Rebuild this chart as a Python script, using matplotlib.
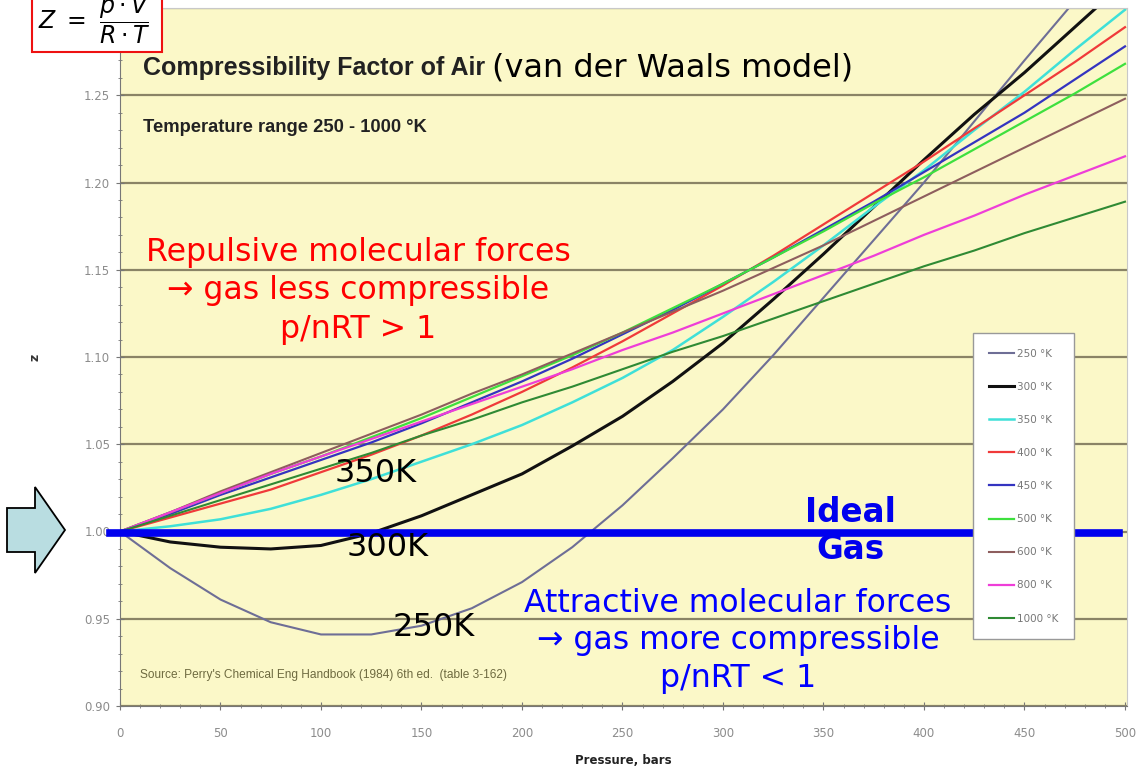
import matplotlib.pyplot as plt
from matplotlib.patches import Polygon, Rectangle
from matplotlib.ticker import MultipleLocator

# values (pressure in bars, Z)
pressure = [0, 25, 50, 75, 100, 125, 150, 175, 200, 225, 250,
            275, 300, 325, 350, 375, 400, 425, 450, 475, 500]
z_250 = [1.000, 0.979, 0.961, 0.948, 0.941, 0.941, 0.946, 0.956, 0.971, 0.991, 1.015,
         1.042, 1.070, 1.101, 1.134, 1.167, 1.200, 1.235, 1.270, 1.304, 1.340]
z_300 = [1.000, 0.994, 0.991, 0.990, 0.992, 0.999, 1.009, 1.021, 1.033, 1.049, 1.066,
         1.086, 1.108, 1.133, 1.159, 1.186, 1.213, 1.239, 1.263, 1.289, 1.315]
z_350 = [1.000, 1.003, 1.007, 1.013, 1.021, 1.030, 1.040, 1.050, 1.061, 1.074, 1.088,
         1.104, 1.123, 1.143, 1.164, 1.186, 1.207, 1.230, 1.252, 1.276, 1.299]
z_400 = [1.000, 1.008, 1.016, 1.024, 1.034, 1.044, 1.055, 1.067, 1.080, 1.094, 1.109,
         1.125, 1.141, 1.158, 1.176, 1.194, 1.212, 1.231, 1.250, 1.269, 1.289]
z_450 = [1.000, 1.010, 1.021, 1.031, 1.041, 1.051, 1.062, 1.074, 1.086, 1.099, 1.113,
         1.127, 1.142, 1.157, 1.173, 1.189, 1.206, 1.223, 1.240, 1.259, 1.278]
z_500 = [1.000, 1.011, 1.022, 1.033, 1.043, 1.054, 1.065, 1.077, 1.089, 1.101, 1.114,
         1.128, 1.142, 1.157, 1.172, 1.188, 1.203, 1.219, 1.235, 1.251, 1.268]
z_600 = [1.000, 1.011, 1.023, 1.034, 1.045, 1.056, 1.067, 1.079, 1.090, 1.102, 1.114,
         1.126, 1.138, 1.151, 1.164, 1.178, 1.192, 1.206, 1.220, 1.234, 1.248]
z_800 = [1.000, 1.011, 1.022, 1.033, 1.043, 1.053, 1.063, 1.073, 1.083, 1.093, 1.104,
         1.114, 1.125, 1.136, 1.147, 1.158, 1.170, 1.181, 1.193, 1.204, 1.215]
z_1000 = [1.000, 1.009, 1.018, 1.027, 1.036, 1.045, 1.055, 1.064, 1.074, 1.083, 1.093,
          1.103, 1.112, 1.122, 1.132, 1.142, 1.152, 1.161, 1.171, 1.180, 1.189]

series = [z_250, z_300, z_350, z_400, z_450, z_500, z_600, z_800, z_1000]
labels = ['250 °K', '300 °K', '350 °K', '400 °K', '450 °K', '500 °K', '600 °K', '800 °K', '1000 °K']
colors = ['#6e6e96', '#111111', '#3fe0d8', '#f03a3a', '#3434c0', '#3ee03e', '#8e5e5e', '#ee3ed8', '#2f8a34']
widths = [1.5, 2.2, 1.8, 1.6, 1.6, 1.6, 1.5, 1.6, 1.5]

W, H = 1140, 774
def fx(px):
    return px / W
def fy(py):
    return 1 - py / H

fig = plt.figure(figsize=(W / 100, H / 100), dpi=100)
ax = fig.add_axes([fx(120), fy(706), fx(1127) - fx(120), fy(8) - fy(706)])
ax.set_facecolor('#fbf8c8')
ax.set_xlim(0, 501)
ax.set_ylim(0.90, 1.30)
ax.xaxis.set_major_locator(MultipleLocator(50))
ax.xaxis.set_minor_locator(MultipleLocator(10))
ax.yaxis.set_major_locator(MultipleLocator(0.05))
ax.yaxis.set_minor_locator(MultipleLocator(0.01))
# top label sits under the formula box in the original
ax.yaxis.set_major_formatter(lambda v, pos: '' if v > 1.27 else f'{v:.2f}')
ax.grid(axis='y', which='major', color='#8a8466', lw=1.6)
ax.set_axisbelow(True)
ax.tick_params(which='both', direction='inout', color='#777777', labelcolor='#8c8c8c', labelsize=8.5)
ax.tick_params(which='major', length=6)
ax.tick_params(which='minor', length=3)
ax.tick_params(axis='x', pad=12)
ax.tick_params(axis='y', pad=4)
for s in ['left', 'bottom']:
    ax.spines[s].set_color('#777777')
for s in ['top', 'right']:
    ax.spines[s].set_color('#c8c8c8')

for z, lab, c, w in zip(series, labels, colors, widths):
    ax.plot(pressure, z, color=c, lw=w, label=lab)

# ideal gas line
ax.plot([-5, 497], [0.9993, 0.9993], color='#0000ee', lw=5.5, clip_on=False, zorder=5)

leg = ax.legend(loc='upper left', bbox_to_anchor=(fx(973), fy(333)), bbox_transform=fig.transFigure,
                fontsize=7.5, labelspacing=2.22, handlelength=2.4, handletextpad=0.3,
                borderpad=1.5, fancybox=False, framealpha=1, edgecolor='#999999',
                borderaxespad=0)
for t in leg.get_texts():
    t.set_color('#777777')
leg.set_zorder(10)

ax.set_ylabel('z', fontsize=9, fontweight='bold', color='#333333', labelpad=31)
ax.set_xlabel('Pressure, bars', fontsize=8.5, fontweight='bold', color='#222222', labelpad=10)

fig.text(fx(143), fy(68), 'Compressibility Factor of Air', fontsize=18, fontweight='bold',
         family='Liberation Sans', color='#222222', va='center')
fig.text(fx(492), fy(68), '(van der Waals model)', fontsize=23, color='black', va='center')
fig.text(fx(143), fy(128), 'Temperature range 250 - 1000 °K', fontsize=13.2, fontweight='bold',
         family='Liberation Sans', color='#222222', va='center')
fig.text(fx(140), fy(675), "Source: Perry's Chemical Eng Handbook (1984) 6th ed.  (table 3-162)",
         fontsize=8.6, family='Liberation Sans', color='#6e6a40', va='center')

fig.text(fx(358), fy(291), 'Repulsive molecular forces\n\u2192 gas less compressible\np/nRT > 1',
         fontsize=22.7, color='#ff0000', ha='center', va='center', linespacing=1.33)
fig.text(fx(738), fy(641), 'Attractive molecular forces\n\u2192 gas more compressible\np/nRT < 1',
         fontsize=22.7, color='#0000ff', ha='center', va='center', linespacing=1.28)
fig.text(fx(850), fy(531), 'Ideal\nGas', fontsize=23.5, fontweight='bold', color='#0000ee',
         ha='center', va='center', linespacing=1.12)
fig.text(fx(376), fy(474), '350K', fontsize=23, color='black', ha='center', va='center')
fig.text(fx(388), fy(547), '300K', fontsize=23, color='black', ha='center', va='center')
fig.text(fx(434), fy(628), '250K', fontsize=23, color='black', ha='center', va='center')

# formula box, cut by the top edge
fig.patches.append(Rectangle((fx(32), fy(52)), fx(162) - fx(32), fy(-20) - fy(52),
                             transform=fig.transFigure, facecolor='white', edgecolor='#ee1111',
                             lw=1.5, zorder=20))
fig.text(fx(38), fy(20), r'$Z\ =\ \dfrac{p\cdot V}{R\cdot T}$', fontsize=17, color='black',
         va='center', zorder=21)

# block arrow pointing at Z = 1
arrow_px = [(7, 508), (35, 508), (35, 487), (65, 530), (35, 573), (35, 552), (7, 552)]
fig.patches.append(Polygon([(fx(x), fy(y)) for x, y in arrow_px], closed=True,
                           transform=fig.transFigure, facecolor='#b9dde1', edgecolor='black', lw=1.3))

plt.savefig('out.png', dpi=100)
